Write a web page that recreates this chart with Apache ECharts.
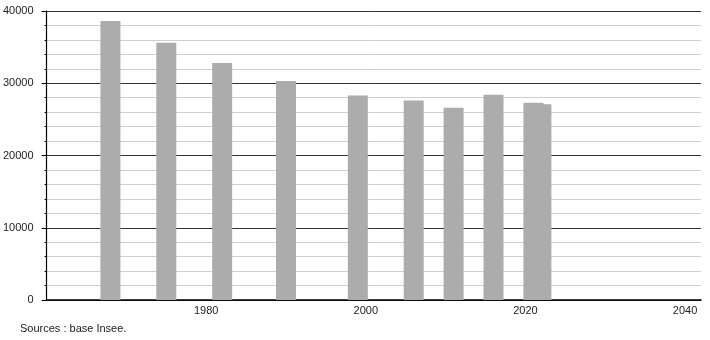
<!DOCTYPE html>
<html>
<head>
<meta charset="utf-8">
<script src="https://cdn.jsdelivr.net/npm/echarts@6/dist/echarts.min.js"></script>
<style>
html,body{margin:0;padding:0;background:#fff;}
#chart{width:710px;height:340px;}
</style>
</head>
<body>
<div id="chart"></div>
<script>
const years = [1968, 1975, 1982, 1990, 1999, 2006, 2011, 2016, 2021, 2022];
const population = [38600, 35600, 32800, 30300, 28300, 27600, 26600, 28400, 27300, 27100];
const xTickLabels = [1980, 2000, 2020, 2040];
const yTickLabels = [0, 10000, 20000, 30000, 40000];
const sourceText = 'Sources : base Insee.';

const chart = echarts.init(document.getElementById('chart'));
chart.setOption({
  animation: false,
  backgroundColor: '#ffffff',
  textStyle: { fontFamily: 'Liberation Sans, Arial, sans-serif' },
  grid: { left: 44, right: 9, top: 11, bottom: 40, containLabel: false },
  graphic: [{
    type: 'text', left: 20, top: 323,
    style: { text: sourceText, fill: '#222', font: '11px Liberation Sans, Arial, sans-serif' }
  }],
  xAxis: {
    type: 'value', min: 1960, max: 2042, interval: 20,
    axisLine: { show: true, onZero: false, lineStyle: { color: '#000', width: 1.5 } },
    axisTick: { show: false },
    splitLine: { show: false },
    axisLabel: {
      color: '#222', fontSize: 11, margin: 5,
      showMinLabel: true, showMaxLabel: true,
      formatter: v => xTickLabels.indexOf(v) >= 0 ? String(v) : ''
    }
  },
  yAxis: {
    type: 'value', min: 0, max: 40000, interval: 10000,
    axisLine: { show: true, lineStyle: { color: '#000', width: 1.2 } },
    axisTick: { show: true, length: 5, lineStyle: { color: '#000' } },
    minorTick: { show: true, splitNumber: 5, length: 2, lineStyle: { color: '#000' } },
    splitLine: { show: true, lineStyle: { color: '#333', width: 1 } },
    minorSplitLine: { show: true, lineStyle: { color: '#cfcfcf', width: 1 } },
    axisLabel: {
      color: '#222', fontSize: 11, margin: 13,
      formatter: v => yTickLabels.indexOf(v) >= 0 ? String(v) : ''
    }
  },
  series: [{
    type: 'bar',
    barWidth: 20,
    itemStyle: { color: '#acacac' },
    data: years.map((y, i) => [y, population[i]])
  }]
});
</script>
</body>
</html>
